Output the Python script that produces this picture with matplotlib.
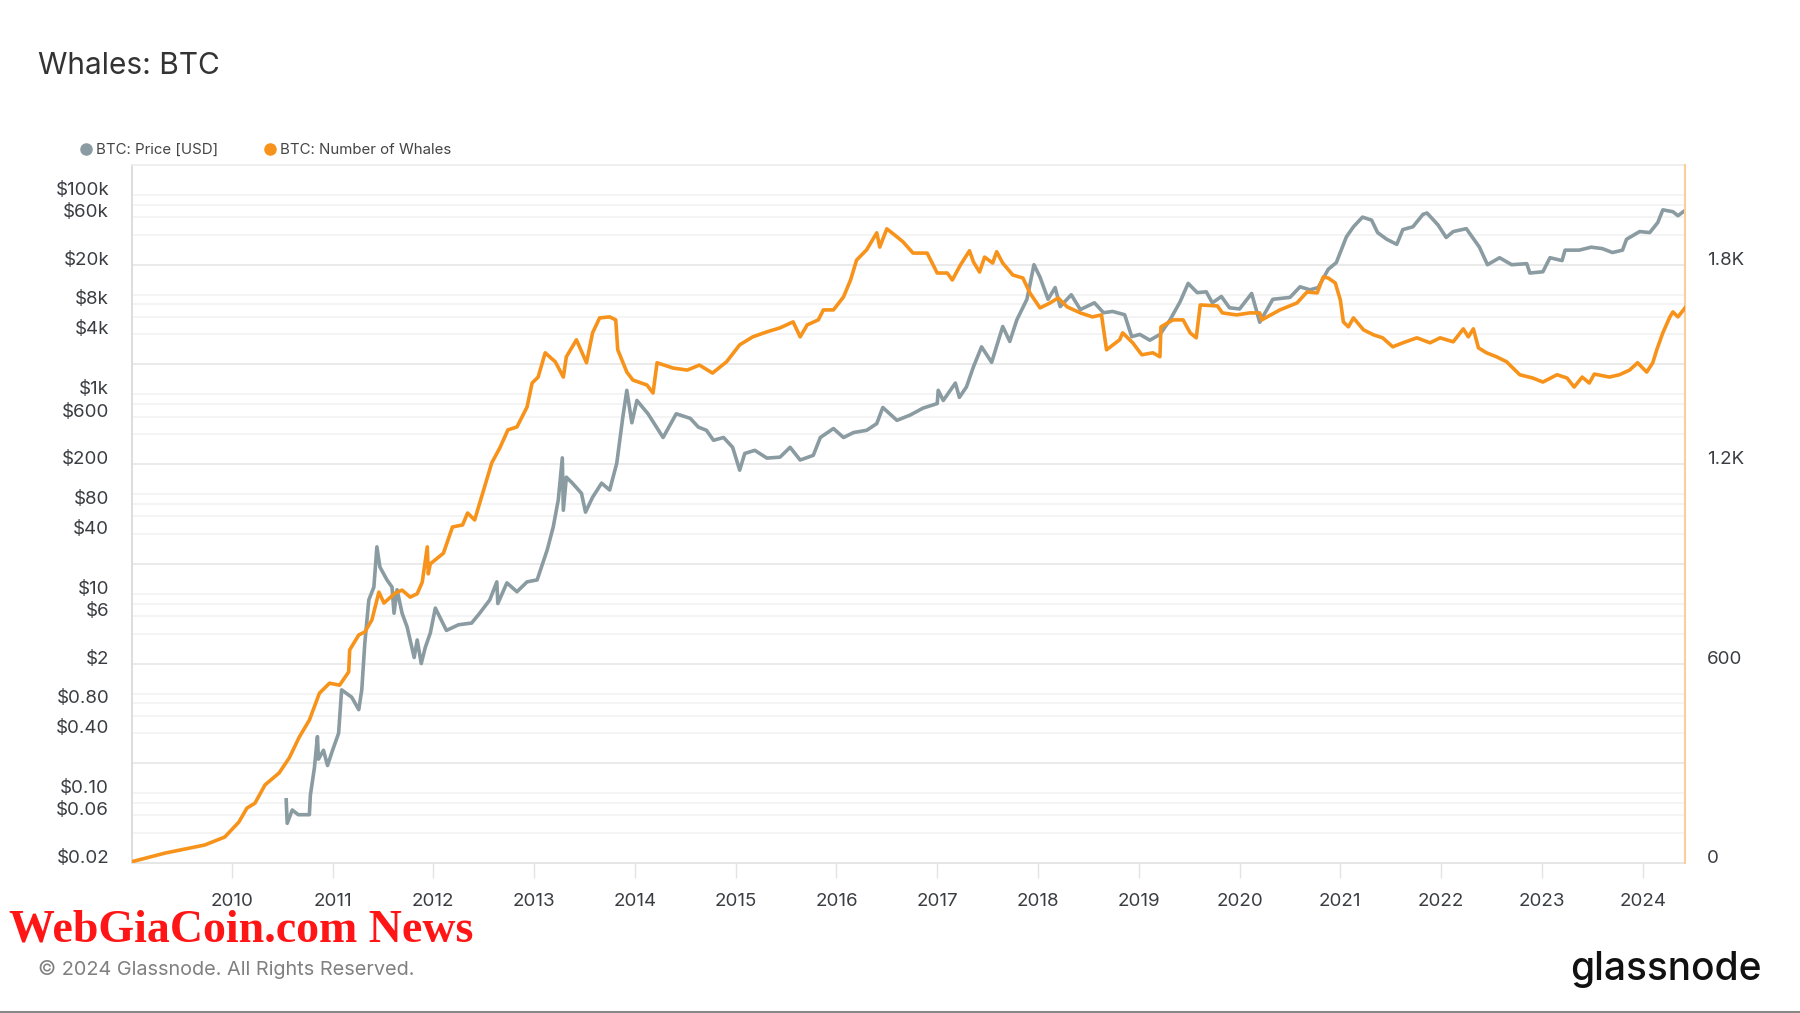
import matplotlib
matplotlib.use("Agg")
import matplotlib.pyplot as plt
from matplotlib.lines import Line2D

plt.rcParams['font.family'] = ['Inter', 'DejaVu Sans']

# BTC price [USD] (decimal year, value)
price_t = [2010.54, 2010.55, 2010.60, 2010.66, 2010.77, 2010.78, 2010.82, 2010.85, 2010.86, 2010.91, 2010.95,
           2011.00, 2011.06, 2011.09, 2011.19, 2011.26, 2011.29, 2011.32, 2011.36, 2011.41, 2011.44, 2011.47,
           2011.54, 2011.59, 2011.61, 2011.64, 2011.69, 2011.74, 2011.81, 2011.84, 2011.88, 2011.92, 2011.97,
           2012.02, 2012.13, 2012.25, 2012.38, 2012.46, 2012.56, 2012.63, 2012.64, 2012.73, 2012.83, 2012.93,
           2013.03, 2013.13, 2013.19, 2013.24, 2013.28, 2013.29, 2013.32, 2013.38, 2013.47, 2013.51, 2013.58,
           2013.67, 2013.75, 2013.82, 2013.88, 2013.92, 2013.97,
           2014.02, 2014.13, 2014.28, 2014.41, 2014.55, 2014.63, 2014.71, 2014.78, 2014.88, 2014.97,
           2015.04, 2015.09, 2015.19, 2015.31, 2015.44, 2015.54, 2015.64, 2015.77, 2015.84, 2015.97,
           2016.07, 2016.17, 2016.30, 2016.40, 2016.46, 2016.60, 2016.73, 2016.86,
           2017.00, 2017.01, 2017.06, 2017.18, 2017.22, 2017.29, 2017.36, 2017.44, 2017.54, 2017.65, 2017.72,
           2017.79, 2017.89, 2017.96,
           2018.02, 2018.10, 2018.17, 2018.22, 2018.33, 2018.42, 2018.56, 2018.65, 2018.74, 2018.86, 2018.93,
           2019.01, 2019.11, 2019.21, 2019.31, 2019.41, 2019.49, 2019.58, 2019.67, 2019.73, 2019.82, 2019.90,
           2020.00, 2020.12, 2020.20, 2020.33, 2020.50, 2020.60, 2020.70, 2020.78, 2020.88, 2020.96,
           2021.06, 2021.13, 2021.22, 2021.31, 2021.37, 2021.46, 2021.56, 2021.62, 2021.72, 2021.82, 2021.86, 2021.97,
           2022.05, 2022.12, 2022.25, 2022.38, 2022.46, 2022.58, 2022.70, 2022.85, 2022.88,
           2023.01, 2023.08, 2023.20, 2023.23, 2023.37, 2023.49, 2023.60, 2023.70, 2023.80, 2023.84, 2023.97,
           2024.07, 2024.15, 2024.20, 2024.30, 2024.35, 2024.42]
price_usd = [0.086, 0.05, 0.068, 0.061, 0.061, 0.096, 0.18, 0.37, 0.22, 0.27, 0.19,
             0.27, 0.40, 1.09, 0.92, 0.69, 1.09, 3.2, 8.7, 11.7, 29.6, 18.6,
             13.8, 11.7, 6.4, 11.0, 6.4, 4.65, 2.3, 3.45, 2.0, 2.9, 4.05,
             7.2, 4.3, 4.9, 5.1, 6.4, 8.7, 13.2, 8.0, 12.9, 10.5, 13.2,
             13.8, 27.6, 47, 88, 231, 69, 148, 129, 102, 66, 93,
             129, 110, 204, 590, 1100, 520,
             870, 640, 370, 640, 575, 470, 437, 347, 370, 295,
             174, 256, 275, 230, 235, 295, 220, 245, 370, 455,
             370, 415, 437, 510, 740, 550, 620, 730,
             810, 1100, 870, 1300, 935, 1190, 1900, 3000, 2100, 4800, 3400,
             5600, 9000, 20000,
             15000, 9000, 11800, 7600, 10000, 7100, 8300, 6600, 6800, 6300, 3800,
             4000, 3500, 4000, 5600, 8500, 13000, 10500, 10700, 8300, 9600, 7400,
             7200, 10300, 5300, 9000, 9400, 12000, 11200, 11800, 18000, 21000,
             38000, 48000, 60000, 56000, 42000, 36000, 32000, 45000, 48000, 64000, 66000, 50000,
             37500, 43000, 46000, 30000, 20000, 23500, 20000, 20500, 16500,
             17000, 23500, 22000, 28000, 28000, 30000, 29000, 26500, 28000, 36000, 43000,
             42000, 53000, 71000, 68000, 62000, 70000]

# BTC number of whales
whale_t = [2009.01, 2009.34, 2009.73, 2009.93, 2010.07, 2010.15, 2010.23, 2010.33, 2010.47, 2010.57, 2010.67,
           2010.77, 2010.87, 2010.97,
           2011.07, 2011.16, 2011.17, 2011.26, 2011.32, 2011.39, 2011.46, 2011.51, 2011.62, 2011.69, 2011.77,
           2011.84, 2011.89, 2011.94, 2011.95, 2011.97,
           2012.10, 2012.19, 2012.29, 2012.34, 2012.41, 2012.49, 2012.58, 2012.66, 2012.74, 2012.83, 2012.93, 2012.98,
           2013.04, 2013.11, 2013.21, 2013.29, 2013.32, 2013.42, 2013.52, 2013.58, 2013.65, 2013.75, 2013.81,
           2013.83, 2013.92, 2013.98,
           2014.12, 2014.18, 2014.22, 2014.38, 2014.52, 2014.64, 2014.77, 2014.91,
           2015.04, 2015.17, 2015.31, 2015.44, 2015.57, 2015.64, 2015.71, 2015.82, 2015.87, 2015.97,
           2016.07, 2016.14, 2016.20, 2016.30, 2016.40, 2016.43, 2016.50, 2016.60, 2016.66, 2016.76, 2016.90,
           2017.00, 2017.10, 2017.15, 2017.23, 2017.32, 2017.36, 2017.42, 2017.47, 2017.55, 2017.59, 2017.65,
           2017.75, 2017.85, 2017.92,
           2018.02, 2018.12, 2018.20, 2018.29, 2018.42, 2018.54, 2018.63, 2018.68, 2018.81, 2018.84, 2018.94,
           2019.03, 2019.14, 2019.21, 2019.22, 2019.34, 2019.44, 2019.51, 2019.57, 2019.61, 2019.78, 2019.83, 2019.97,
           2020.10, 2020.20, 2020.22, 2020.40, 2020.57, 2020.67, 2020.77, 2020.83, 2020.88, 2020.95,
           2021.00, 2021.03, 2021.08, 2021.13, 2021.23, 2021.33, 2021.42, 2021.52, 2021.62, 2021.76, 2021.89, 2021.99,
           2022.12, 2022.22, 2022.27, 2022.32, 2022.37, 2022.45, 2022.55, 2022.65, 2022.78, 2022.91,
           2023.01, 2023.15, 2023.25, 2023.32, 2023.40, 2023.47, 2023.52, 2023.67, 2023.77, 2023.87, 2023.95,
           2024.04, 2024.10, 2024.14, 2024.20, 2024.27, 2024.30, 2024.35, 2024.42]
whales = [4, 30, 54, 78, 123, 165, 180, 235, 271, 316, 379,
          430, 511, 541,
          535, 575, 641, 686, 695, 731, 815, 782, 812, 821, 800,
          810, 845, 951, 870, 900,
          932, 1011, 1017, 1053, 1032, 1113, 1204, 1249, 1303, 1312, 1372, 1444,
          1462, 1535, 1508, 1462, 1523, 1574, 1505, 1595, 1640, 1643, 1634,
          1544, 1477, 1453,
          1438, 1414, 1505, 1489, 1483, 1498, 1474, 1508,
          1559, 1583, 1598, 1610, 1628, 1583, 1619, 1634, 1664, 1664,
          1703, 1754, 1814, 1845, 1896, 1853, 1908, 1884, 1869, 1835, 1835,
          1775, 1775, 1754, 1799, 1842, 1808, 1778, 1823, 1805, 1839, 1805,
          1769, 1760, 1715,
          1670, 1685, 1700, 1673, 1655, 1643, 1649, 1544, 1574, 1595, 1565,
          1529, 1535, 1523, 1613, 1634, 1634, 1595, 1580, 1679, 1676, 1655, 1649,
          1655, 1655, 1634, 1664, 1685, 1718, 1715, 1763, 1760, 1745,
          1694, 1628, 1613, 1640, 1604, 1589, 1580, 1553, 1565, 1580, 1565, 1580,
          1568, 1607, 1583, 1607, 1550, 1535, 1523, 1508, 1469, 1459,
          1447, 1469, 1459, 1432, 1462, 1444, 1471, 1462, 1469, 1483, 1505,
          1477, 1505, 1544, 1595, 1643, 1658, 1643, 1670]

years = list(range(2010, 2025))
price_ticks = [0.02, 0.06, 0.10, 0.40, 0.80, 2, 6, 10, 40, 80, 200, 600, 1000, 4000, 8000, 20000, 60000, 100000]
price_labels = ['$0.02', '$0.06', '$0.10', '$0.40', '$0.80', '$2', '$6', '$10', '$40', '$80',
                '$200', '$600', '$1k', '$4k', '$8k', '$20k', '$60k', '$100k']
whale_ticks = [0, 600, 1200, 1800]
whale_labels = ['0', '600', '1.2K', '1.8K']

GRAY = '#8a9ba1'
ORANGE = '#f7931a'
TXT = '#3a3d42'

fig = plt.figure(figsize=(18, 10.13), dpi=100)
ax = fig.add_axes([132 / 1800, 150 / 1013, 1553 / 1800, 698 / 1013])
ax.set_yscale('log')
ax.set_ylim(0.02, 200000)
ax.set_xlim(2009.01, 2024.42)

# horizontal grid: darker at 2x10^k, lighter at 4,6,8,10 x10^k
for k in range(-2, 5):
    base = 2 * 10.0 ** k
    if k > -2:
        ax.axhline(base, color='#e6e6e6', lw=1.2, zorder=0)
    for m in (2, 3, 4, 5):
        ax.axhline(base * m, color='#f1f1f1', lw=1.1, zorder=0)

ax.plot(price_t, price_usd, color=GRAY, lw=2.6, solid_joinstyle='round', zorder=3)

ax.set_yticks(price_ticks)
ax.set_yticklabels(price_labels)
ax.yaxis.set_minor_locator(plt.NullLocator())
ax.tick_params(axis='y', length=0, pad=16.5, labelsize=13.5, labelcolor=TXT)
for lbl in ax.get_yticklabels():
    lbl.set_verticalalignment('baseline')

ax.set_xticks(years)
ax.set_xticklabels([str(y) for y in years])
ax.tick_params(axis='x', direction='out', length=11, width=1, color='#e3e3e3',
               pad=10.5, labelsize=13.5, labelcolor=TXT)

for side in ['left', 'bottom', 'top', 'right']:
    ax.spines[side].set_linewidth(1.2)
ax.spines['left'].set_color('#d4d8db')
ax.spines['bottom'].set_color('#e2e2e2')
ax.spines['top'].set_color('#ececec')
ax.spines['right'].set_visible(False)

ax2 = ax.twinx()
ax2.plot(whale_t, whales, color=ORANGE, lw=2.6, solid_joinstyle='round', zorder=3)
ax2.set_ylim(0, 2100)
ax2.set_yticks(whale_ticks)
ax2.set_yticklabels(whale_labels)
ax2.tick_params(axis='y', length=0, pad=16, labelsize=13.5, labelcolor=TXT)
for lbl in ax2.get_yticklabels():
    lbl.set_verticalalignment('baseline')
for side in ['left', 'bottom', 'top']:
    ax2.spines[side].set_visible(False)
ax2.spines['right'].set_color('#fbcf98')
ax2.spines['right'].set_linewidth(1.5)

handles = [Line2D([], [], marker='o', ls='', color=GRAY, markersize=8),
           Line2D([], [], marker='o', ls='', color=ORANGE, markersize=8)]
fig.legend(handles, ['BTC: Price [USD]', 'BTC: Number of Whales'], loc='center left',
           bbox_to_anchor=(80 / 1800, 1 - 150 / 1013), ncol=2, frameon=False, fontsize=10.8,
           handletextpad=0.3, columnspacing=3.0, handlelength=0.8, borderaxespad=0, borderpad=0,
           labelcolor='#444444')

fig.text(38 / 1800, 1 - 66 / 1013, 'Whales: BTC', fontsize=21.5, va='center', color='#333333')
fig.text(9 / 1800, 1 - 931 / 1013, 'WebGiaCoin.com News', color='#ff1515', fontsize=33,
         fontweight='bold', family=['DejaVu Serif Condensed', 'Liberation Serif'], va='center')
fig.text(38 / 1800, 1 - 969 / 1013, '\u00a9 2024 Glassnode. All Rights Reserved.', fontsize=14.3,
         color='#808080', va='center')
fig.text(1762 / 1800, 1 - 970 / 1013, 'glassnode', fontsize=28, fontweight='medium',
         ha='right', va='center', color='#111111')
fig.add_artist(Line2D([0, 1], [1.5 / 1013, 1.5 / 1013], color='#888888', lw=1.5))

fig.savefig('out.png', dpi=100, facecolor='white')
